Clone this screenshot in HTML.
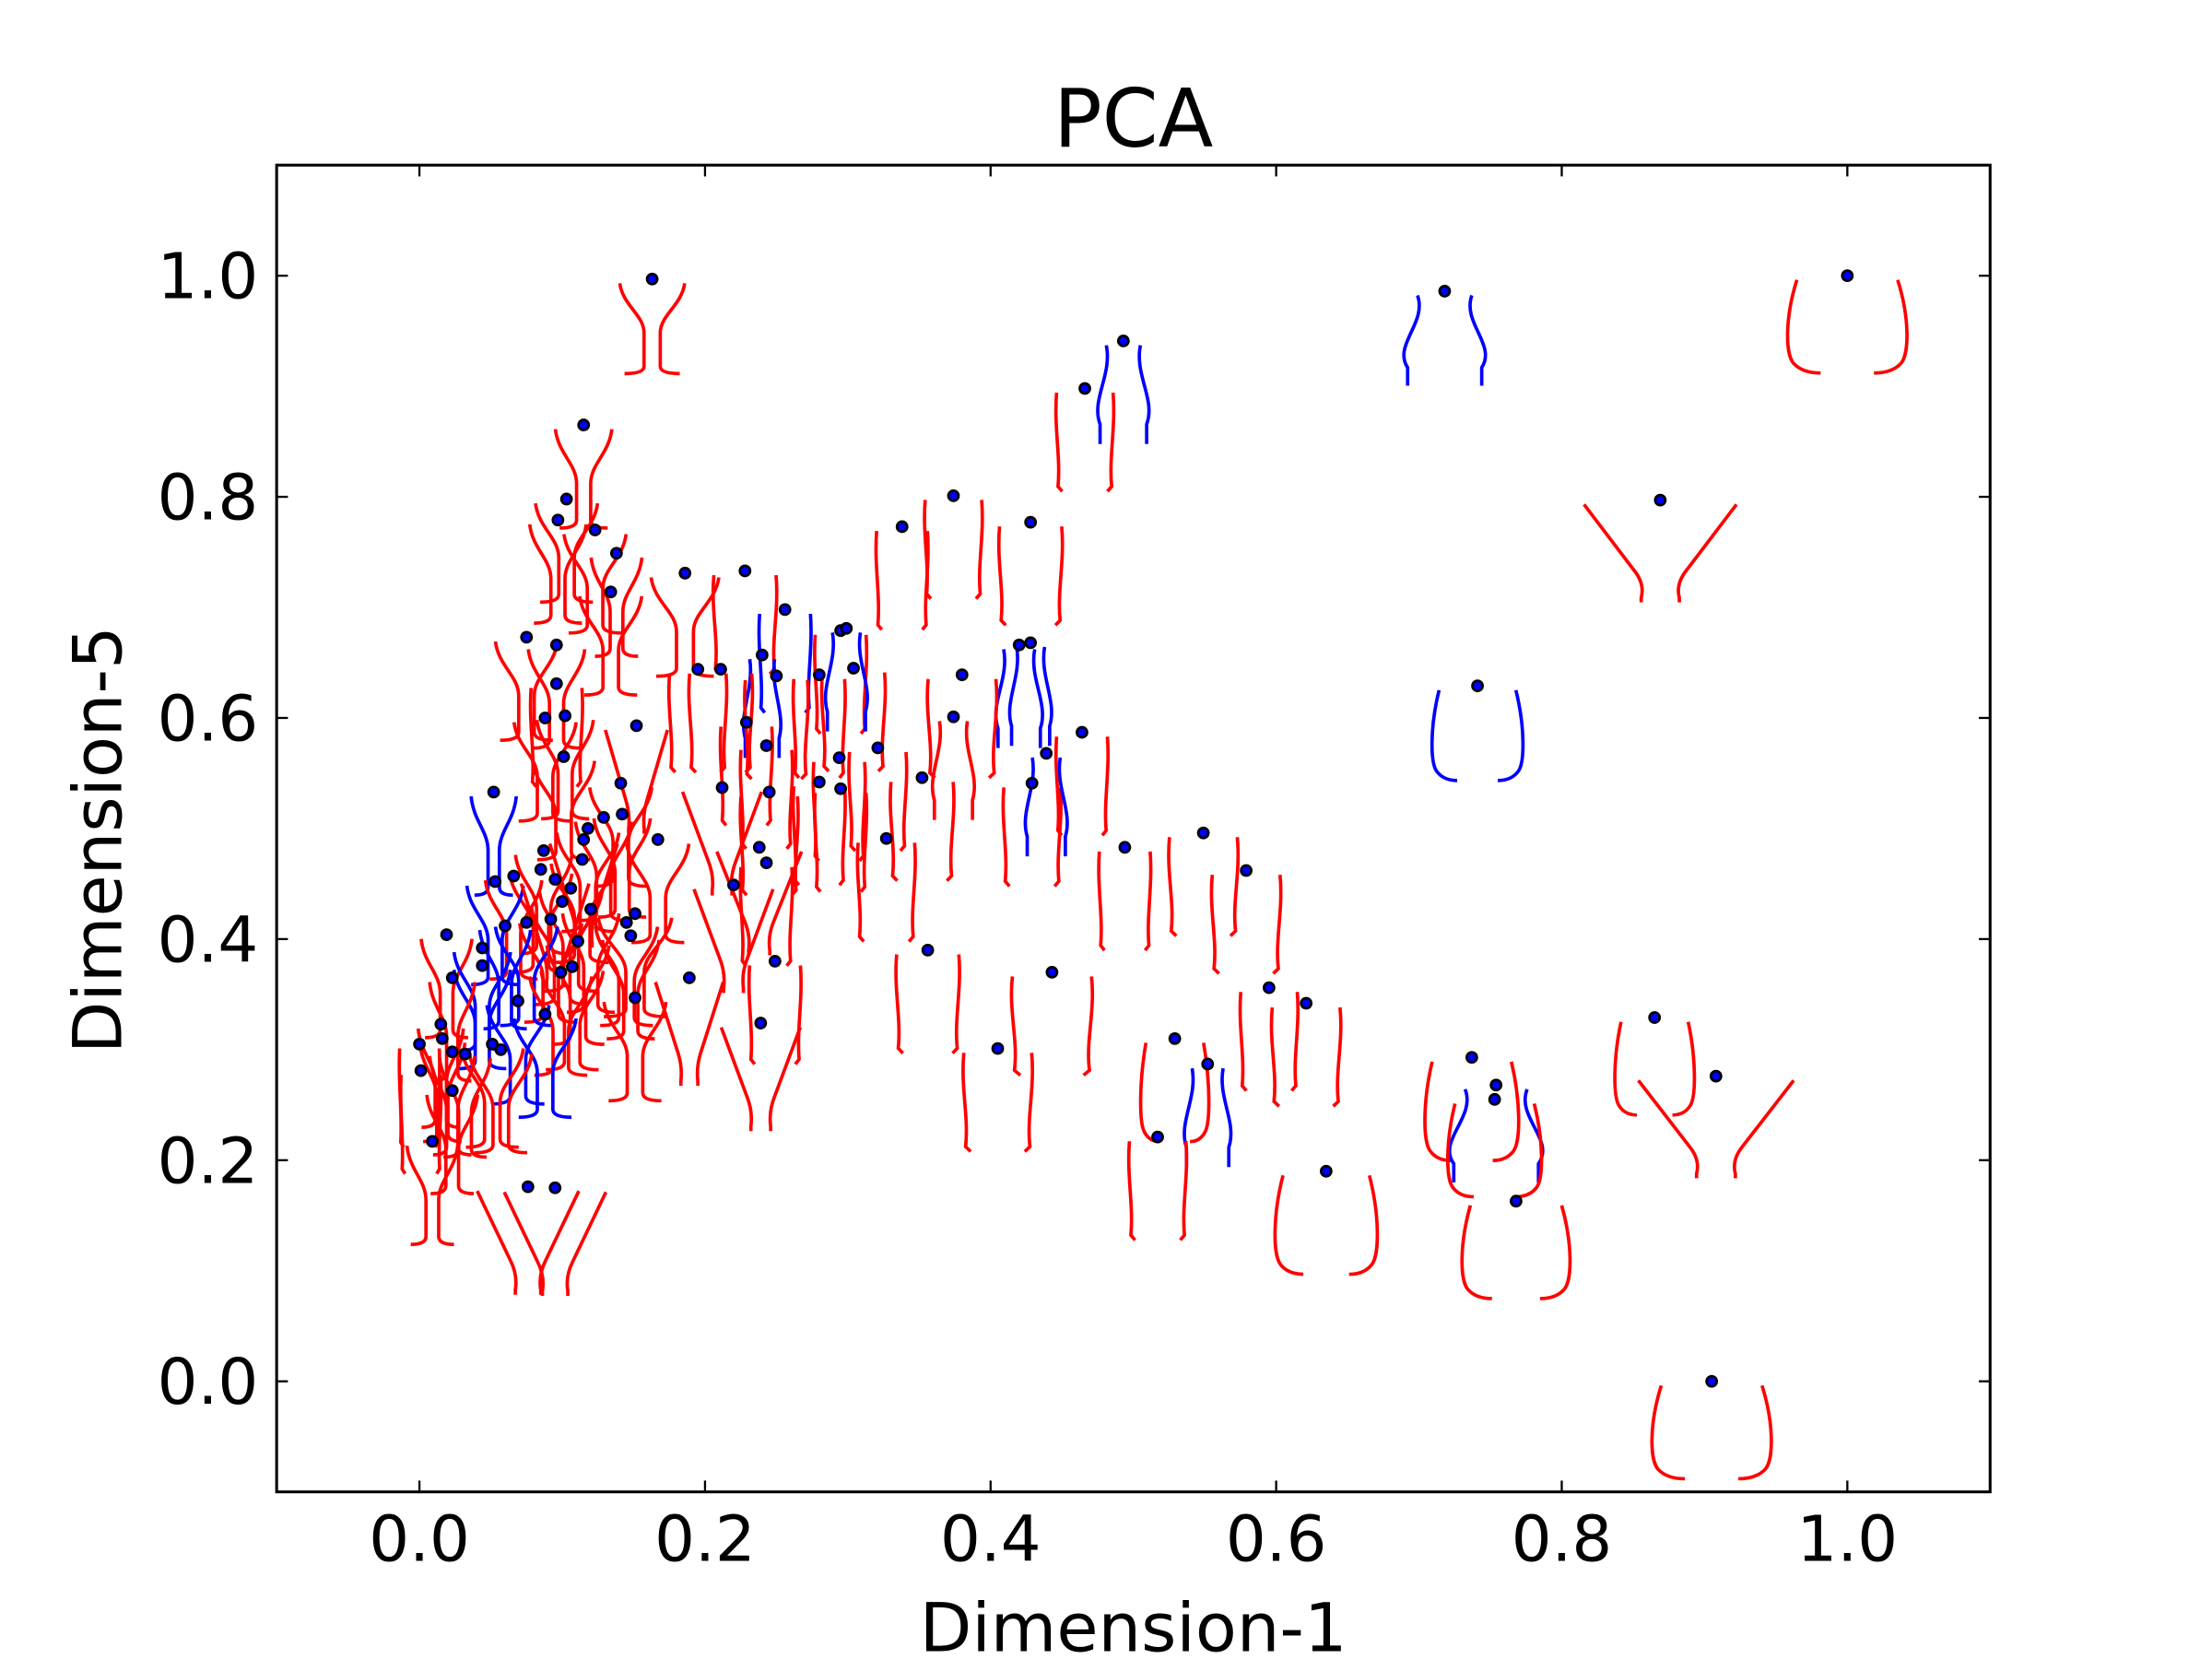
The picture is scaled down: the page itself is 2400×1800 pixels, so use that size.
<!DOCTYPE html>
<html><head><meta charset="utf-8"><style>
html,body{margin:0;padding:0;background:#fff;}
svg{display:block;}
text{font-family:"DejaVu Sans","Liberation Sans",sans-serif;fill:#000;}
</style></head><body>
<svg id="chart" width="2400" height="1800" viewBox="0 0 1567.2 1175.4" xmlns="http://www.w3.org/2000/svg">
<rect x="0" y="0" width="1567.2" height="1175.4" fill="#fff"/>
<text x="803" y="104" font-size="57" text-anchor="middle">PCA</text>
<g id="glyphs"></g>
<g id="points"></g>
<rect x="196" y="117" width="1214" height="940" fill="none" stroke="#000" stroke-width="2"/>
<g id="ticks"></g>
<text x="803" y="1170" font-size="48" text-anchor="middle">Dimension-1</text>
<text x="0" y="0" font-size="48" text-anchor="middle" transform="translate(86,595) rotate(-90)">Dimension-5</text>
</svg>
<script>
const xTicks=[0.0,0.2,0.4,0.6,0.8,1.0];
const yTicks=[0.0,0.2,0.4,0.6,0.8,1.0];
const xTickLabels=["0.0","0.2","0.4","0.6","0.8","1.0"];
const yTickLabels=["0.0","0.2","0.4","0.6","0.8","1.0"];
const xs=[0.163,0.115,0.103,0.097,0.123,0.138,0.134,0.075,0.096,0.096,0.088,0.102,0.101,0.052,0.152,0.141,0.142,0.129,0.118,0.115,0.167,0.087,0.114,0.085,0.066,0.053,0.095,0.106,0.100,0.092,0.120,0.151,0.145,0.148,0.075,0.060,0.019,0.111,0.044,0.107,0.044,0.023,0.099,0.189,0.069,0.151,0.088,0.015,0.016,0.000,0.051,0.023,0.032,0.057,0.001,0.023,0.009,0.076,0.095,
0.186,0.228,0.256,0.295,0.299,0.240,0.250,0.195,0.211,0.229,0.243,0.212,0.245,0.280,0.304,0.321,0.294,0.280,0.295,0.238,0.243,0.220,0.249,0.239,0.327,
0.338,0.374,0.428,0.420,0.428,0.380,0.374,0.352,0.429,0.439,0.464,0.356,0.443,0.405,0.466,0.493,0.494,0.549,0.579,0.529,0.552,0.517,0.595,0.621,0.635,
0.718,0.869,0.741,0.737,0.754,0.753,0.768,0.865,0.908,0.905,1.000];
const ys=[0.997,0.865,0.798,0.779,0.770,0.749,0.714,0.673,0.666,0.631,0.600,0.602,0.565,0.533,0.593,0.541,0.513,0.510,0.500,0.490,0.490,0.480,0.472,0.463,0.457,0.452,0.454,0.446,0.434,0.418,0.427,0.423,0.415,0.403,0.415,0.412,0.404,0.398,0.392,0.375,0.376,0.365,0.370,0.365,0.344,0.347,0.332,0.323,0.310,0.305,0.305,0.298,0.296,0.300,0.281,0.263,0.217,0.176,0.175,
0.731,0.733,0.698,0.679,0.681,0.657,0.638,0.644,0.644,0.596,0.575,0.537,0.533,0.639,0.645,0.573,0.564,0.542,0.536,0.483,0.469,0.449,0.380,0.324,0.491,
0.773,0.801,0.777,0.666,0.668,0.639,0.601,0.546,0.541,0.568,0.587,0.390,0.370,0.301,0.898,0.941,0.483,0.496,0.462,0.310,0.287,0.221,0.356,0.342,0.190,
0.986,0.797,0.629,0.293,0.268,0.255,0.163,0.329,0.276,0.000,1.000];
const gType=["Y","Y","Y","Y","Y","Y","Y","Y","Y","I","Y","Y","Y","Y","V","Y","Y","Y","Y","V","Y","Y","Y","Y","Y","Y","V","Y","Y","Y","Y","Y","Y","Y","Y","Y","Y","Y","Y","Y","Y","Y","Y","V","Y","Y","Y","Y","Y","I","Y","Y","Y","Y","I","Y","Y","V","V",
"Y","I","I","I","S","S","I","I","I","I","I","V","I","I","I","I","I","I","I","V","I","V","I","V","I",
"I","I","I","S","S","I","S","I","I","S","I","I","I","I","I","S","I","I","I","U","S","I","I","I","U",
"S","V","U","U","S","U","U","U","V","U","U"];
const gW=[23,20,22,20,22,18,22,22,20,18,22,20,22,16,22,22,20,20,22,24,22,20,22,22,20,20,24,22,22,22,20,26,22,20,22,18,18,22,20,22,20,16,22,24,22,22,22,16,16,14,22,16,18,22,14,18,18,36,36,
24,22,18,18,18,16,22,20,22,18,18,28,20,18,22,20,18,18,18,30,18,28,18,28,20,
18,20,22,20,18,24,18,22,20,18,18,22,28,24,20,22,18,24,24,24,20,20,20,24,36,
35,54,32,33,40,33,38,28,55,42,42];
const gCol=["r","r","r","r","r","r","r","r","r","r","r","r","r","b","r","r","r","r","r","r","r","r","r","r","r","b","r","r","r","r","r","r","r","r","b","b","r","r","b","r","b","r","r","r","b","r","b","r","r","r","r","r","r","r","r","r","r","r","r",
"r","r","b","r","b","b","r","r","r","r","r","r","r","r","r","r","r","r","r","r","r","r","r","r","r",
"r","r","r","b","b","r","r","r","r","b","r","r","r","r","r","b","r","r","r","r","b","r","r","r","r",
"b","r","b","r","b","r","r","r","r","r","r"];
const gH=[64,70,70,70,70,70,70,70,70,70,70,70,70,70,70,70,70,70,70,70,70,70,70,70,70,70,70,70,70,70,70,70,70,70,70,70,70,70,70,70,70,70,70,70,70,70,70,70,70,70,70,70,70,70,70,70,70,70,70,
70,70,70,70,70,70,70,70,70,70,70,70,70,70,70,70,70,70,70,70,70,70,70,70,70,
70,70,70,70,70,70,70,70,70,70,70,70,70,70,70,70,70,70,70,70,70,70,70,70,70,
64,66,64,70,66,66,66,66,66,66,66];

const NS="http://www.w3.org/2000/svg";
const X0=196,X1=1410,Y0=1057,Y1=117,XMIN=-0.1,XMAX=1.1,YMIN=-0.1,YMAX=1.1;
function sx(v){return X0+(v-XMIN)/(XMAX-XMIN)*(X1-X0);}
function sy(v){return Y0-(v-YMIN)/(YMAX-YMIN)*(Y0-Y1);}

function halfPath(cx,y0,w,h,t,s){
  const p=(dx,dy)=>(cx+s*dx).toFixed(1)+","+(y0+dy).toFixed(1);
  if(t==="Y") return "M"+p(w,0)+" C"+p(w*0.9,h*0.25)+" "+p(w*0.25,h*0.35)+" "+p(w*0.25,h*0.55)+" L"+p(w*0.25,h*0.92)+" Q"+p(w*0.25,h)+" "+p(w*0.85,h);
  if(t==="V") return "M"+p(w,0)+" L"+p(w*0.35,h*0.7)+" Q"+p(w*0.2,h*0.85)+" "+p(w*0.25,h)+" L"+p(w*0.25,h*1.05);
  if(t==="U") return "M"+p(w*0.85,0)+" C"+p(w*1.05,h*0.4)+" "+p(w*1.05,h*0.8)+" "+p(w*0.9,h*0.9)+" Q"+p(w*0.75,h)+" "+p(w*0.45,h);
  if(t==="S") return "M"+p(w*0.55,0)+" C"+p(w*0.35,h*0.3)+" "+p(w*1.05,h*0.55)+" "+p(w*0.75,h*0.8)+" L"+p(w*0.75,h);
  return "M"+p(w,0)+" C"+p(w*1.1,h*0.35)+" "+p(w*0.85,h*0.65)+" "+p(w*0.95,h*0.95)+" L"+p(w*0.8,h);
}
const gg=document.getElementById("glyphs");
for(let i=0;i<xs.length;i++){
  const cx=sx(xs[i]),cy=sy(ys[i])+3;
  const col=gCol[i]==="b"?"#0000ff":"#ff0000";
  for(const s of [-1,1]){
    const pth=document.createElementNS(NS,"path");
    pth.setAttribute("d",halfPath(cx,cy,gW[i],gH[i],gType[i],s));
    pth.setAttribute("fill","none");pth.setAttribute("stroke",col);pth.setAttribute("stroke-width","2.4");
    
    
    gg.appendChild(pth);
  }
}
const pg=document.getElementById("points");
for(let i=0;i<xs.length;i++){
  const c=document.createElementNS(NS,"circle");
  c.setAttribute("cx",sx(xs[i]));c.setAttribute("cy",sy(ys[i]));c.setAttribute("r","3.6");
  c.setAttribute("fill","#0000ff");c.setAttribute("stroke","#000");c.setAttribute("stroke-width","1.8");
  
  
  pg.appendChild(c);
}
const tg=document.getElementById("ticks");
function line(x1,y1,x2,y2){const l=document.createElementNS(NS,"line");l.setAttribute("x1",x1);l.setAttribute("y1",y1);l.setAttribute("x2",x2);l.setAttribute("y2",y2);l.setAttribute("stroke","#000");l.setAttribute("stroke-width","1.5");


tg.appendChild(l);}
function label(x,y,txt,anchor){const t=document.createElementNS(NS,"text");t.setAttribute("x",x);t.setAttribute("y",y);t.setAttribute("font-size","45");t.setAttribute("text-anchor",anchor);t.textContent=txt;


tg.appendChild(t);}
xTicks.forEach((v,i)=>{const x=sx(v);line(x,Y0,x,Y0-8);line(x,Y1,x,Y1+8);label(x,1106,xTickLabels[i],"middle");});
yTicks.forEach((v,i)=>{const y=sy(v);line(X0,y,X0+8,y);line(X1,y,X1-8,y);label(183,y+16,yTickLabels[i],"end");});
</script>
</body></html>
